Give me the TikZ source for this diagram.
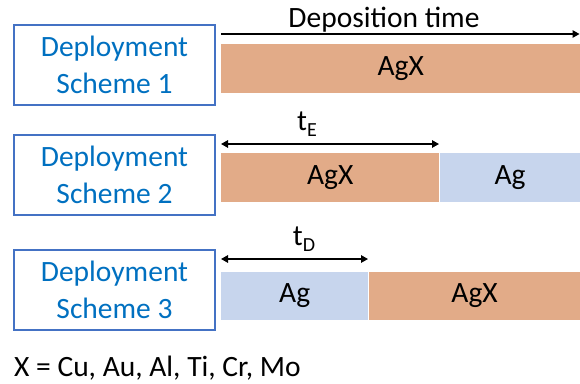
\documentclass[tikz,border=0pt]{standalone}
\usepackage{fontspec}
\setmainfont{Carlito}
\usetikzlibrary{arrows.meta}
\definecolor{boxblue}{HTML}{4472C4}
\definecolor{textblue}{HTML}{0070C0}
\definecolor{agxfill}{HTML}{E2AB88}
\definecolor{agfill}{HTML}{C7D5ED}
\tikzset{
  scheme/.style={draw=boxblue, line width=2.2pt, minimum width=201pt, minimum height=80pt,
    inner sep=0pt, text=textblue, align=center, font=\fontsize{29.5}{37}\selectfont},
  layer/.style={inner sep=0pt, minimum height=49pt, font=\fontsize{29.5}{34}\selectfont},
  agx/.style={layer, fill=agxfill},
  agl/.style={layer, fill=agfill},
  timearrow/.style={line width=1.4pt, {Triangle[length=7pt,width=7.5pt]}-{Triangle[length=7pt,width=7.5pt]}},
  onearrow/.style={line width=1.4pt, -{Triangle[length=7pt,width=7.5pt]}},
  lbl/.style={inner sep=0pt, font=\fontsize{29.5}{34}\selectfont}
}
\newcommand{\subtxt}[1]{\raisebox{-0.22em}{\fontsize{20}{20}\selectfont #1}}
\begin{document}
\begin{tikzpicture}[x=1pt,y=-1pt]
\useasboundingbox (0,0) rectangle (580,383);
% scheme boxes
\node[scheme] (s1) at (114.5,65) {Deployment\\Scheme 1};
\node[scheme] (s2) at (114.5,175) {Deployment\\Scheme 2};
\node[scheme] (s3) at (114.5,290) {Deployment\\Scheme 3};
% scheme 1 bar
\node[agx, minimum width=359pt, anchor=north west] (b1) at (221,43.5) {AgX};
% scheme 2 bars
\node[agx, minimum width=218pt, anchor=north west] (b2a) at (221,152.5) {AgX};
\node[agl, minimum width=141pt, anchor=north west] (b2b) at (b2a.north east) {Ag};
% scheme 3 bars
\node[agl, minimum width=147pt, minimum height=48pt, anchor=north west] (b3a) at (221,271.5) {Ag};
\node[agx, minimum width=212pt, minimum height=48pt, anchor=north west] (b3b) at (b3a.north east) {AgX};
% arrows
\coordinate (a1s) at (221,34);
\coordinate (a1e) at (579.5,34);
\draw[onearrow] (a1s) -- (a1e);
\node[lbl, anchor=base] (dep) at (384,27) {Deposition time};
\coordinate (a2s) at (221,144);
\coordinate (a2e) at (439,144);
\draw[timearrow] (a2s) -- (a2e);
\node[lbl, anchor=base] (tE) at (307,130) {t\subtxt{E}};
\coordinate (a3s) at (221,259);
\coordinate (a3e) at (368,259);
\draw[timearrow] (a3s) -- (a3e);
\node[lbl, anchor=base] (tD) at (304,245) {t\subtxt{D}};
% legend
\node[lbl, anchor=base west] (leg) at (14,376) {X = Cu, Au, Al, Ti, Cr, Mo};
\end{tikzpicture}
\end{document}
